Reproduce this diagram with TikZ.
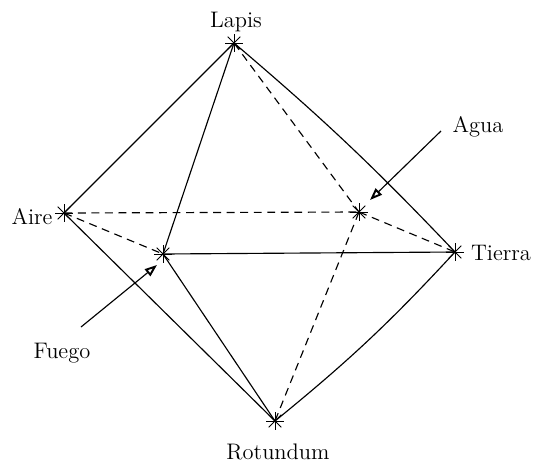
\documentclass[tikz,border=0pt]{standalone}
\usepackage{xcolor}
\usetikzlibrary{arrows.meta}

\newcommand{\starpt}[3]{%
  \node[pt] (#1) at (#2,#3) {};
  \foreach \a in {0,45,...,315} \draw[ray] (#1.center) -- ++(\a:9);
}

\begin{document}
\begin{tikzpicture}[
  x=0.02cm, y=-0.02cm,
  pt/.style={inner sep=0pt, minimum size=0pt},
  ray/.style={line width=0.5pt},
  lbl/.style={font=\fontsize{12.8}{15}\selectfont, inner sep=0pt},
  edge/.style={line width=0.65pt},
  hidden/.style={edge, dash pattern=on 4.5pt off 3.2pt},
  arr/.style={-{Triangle[open, length=7pt, width=5pt, line width=1.1pt]}, line width=0.65pt},
]
\useasboundingbox (0,0) rectangle (534,464);

%% ---- vertices ----
\starpt{lapis}{234}{43}
\starpt{aire}{64}{213}
\starpt{fuego}{163}{254}
\starpt{agua}{359}{212}
\starpt{tierra}{455}{252}
\starpt{rotundum}{275}{421}

%% ---- labels ----
\node[lbl] (lLapis) at (236,22) {Lapis};
\node[lbl] (lAire) at (32,217) {Aire};
\node[lbl] (lAgua) at (478,127) {Agua};
\node[lbl] (lTierra) at (501,253) {Tierra};
\node[lbl] (lFuego) at (62,353) {Fuego};
\node[lbl] (lRotundum) at (278,452) {Rotundum};

%% solid edges
\draw[edge] (lapis) -- (aire);
\draw[edge] (lapis) to[bend left=3] (tierra);
\draw[edge] (lapis) -- (fuego);
\draw[edge] (aire) -- (rotundum);
\draw[edge] (fuego) -- (tierra);
\draw[edge] (fuego) -- (rotundum);
\draw[edge] (rotundum) to[bend right=4] (tierra);

%% dashed edges
\draw[hidden] (aire) -- (agua);
\draw[hidden] (aire) -- (fuego);
\draw[hidden] (lapis) -- (agua);
\draw[hidden] (agua) -- (tierra);
\draw[hidden] (agua) -- (rotundum);

%% pointers
\coordinate (fuegoTail) at (81,327);
\coordinate (fuegoTip) at (157,265);
\coordinate (aguaTail) at (441,131);
\coordinate (aguaTip) at (370,200);
\draw[arr] (fuegoTail) -- (fuegoTip);
\draw[arr] (aguaTail) -- (aguaTip);

\end{tikzpicture}
\end{document}
